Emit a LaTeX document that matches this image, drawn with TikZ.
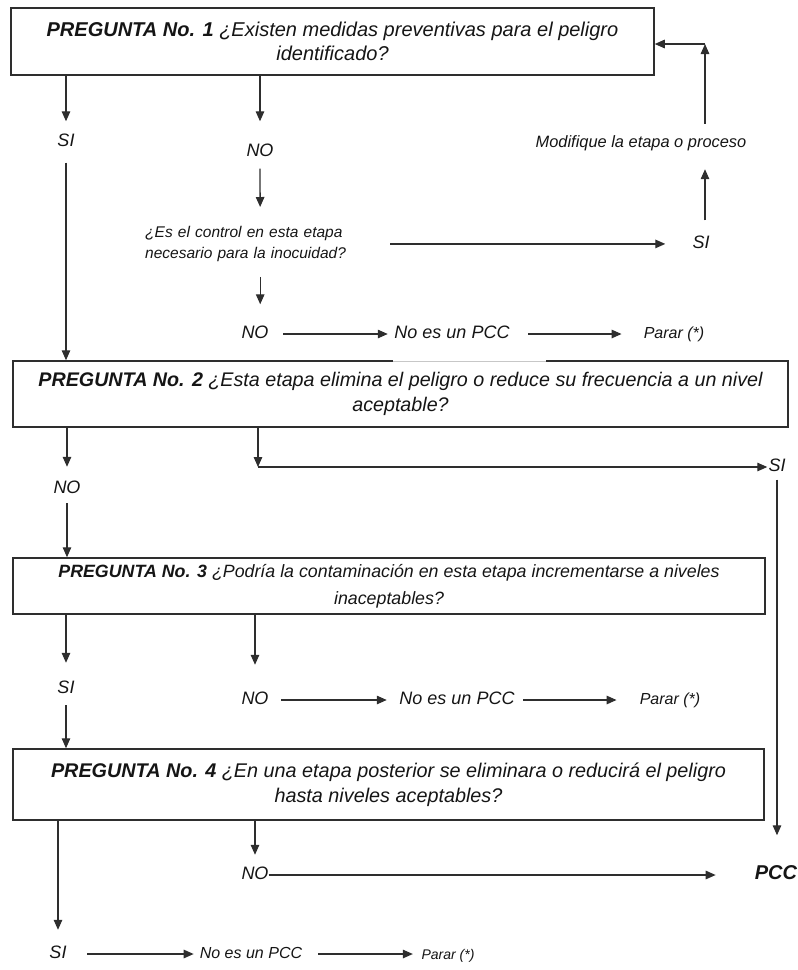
\documentclass[tikz,border=0pt]{standalone}
\usepackage{fontspec}
\setmainfont{Liberation Sans}
\usetikzlibrary{arrows.meta}
\definecolor{ink}{HTML}{151515}
\definecolor{wire}{HTML}{2E2E2E}
\newcommand{\fsz}[2]{\fontsize{#1}{#2}\selectfont}
\tikzset{
  qbox/.style={draw=wire, line width=1.5pt, inner sep=0pt, align=center, text=ink},
  lbl/.style={inner sep=0pt, text height=13pt, text depth=4pt, text=ink},
  t18/.style={font=\fsz{18}{20}\itshape},
  t16/.style={font=\fsz{16}{18}\itshape},
  ar/.style={draw=wire, line width=1.3pt, -{Triangle[length=10pt,width=8.5pt]}},
}
\begin{document}
\begin{tikzpicture}[x=1pt,y=-1pt]
\useasboundingbox (0,0) rectangle (798,970);

% question boxes
\node[qbox, minimum width=643pt, minimum height=67pt, font=\fsz{20}{24}\itshape] (b1) at (332.5,41.5)
  {\textbf{PREGUNTA No. 1} ¿Existen medidas preventivas para el peligro\\ identificado?};
\node[qbox, minimum width=775pt, minimum height=66pt, font=\fsz{19.7}{25}\itshape] (b2) at (400.5,394)
  {\textbf{PREGUNTA No. 2} ¿Esta etapa elimina el peligro o reduce su frecuencia a un nivel\\ aceptable?};
\node[qbox, minimum width=752pt, minimum height=56pt, font=\fsz{17.8}{27}\itshape] (b3) at (389,586)
  {\textbf{PREGUNTA No. 3} ¿Podría la contaminación en esta etapa incrementarse a niveles\\ inaceptables?};
\node[qbox, minimum width=751pt, minimum height=71pt, font=\fsz{19.8}{25}\itshape] (b4) at (388.5,784.5)
  {\textbf{PREGUNTA No. 4} ¿En una etapa posterior se eliminara o reducirá el peligro\\ hasta niveles aceptables?};
% faded stretch in the top border of box 2
\draw[white, line width=3pt] (393,361) -- (546,361);
\draw[black!22, line width=0.8pt] (393,361.5) -- (546,361.5);

% question 1 branches
\node[lbl, t18] (si1) at (66,142) {SI};
\node[lbl, t18] (no1) at (260,152) {NO};
\node[inner sep=0pt, text width=230pt, align=left, anchor=north west, text=ink,
      font=\fsz{15.5}{21}\itshape] (ctl) at (145,226)
  {\makebox[230pt][s]{¿Es el control en esta etapa}\\ necesario para la inocuidad?};
\node[lbl, t18] (si2) at (701,244) {SI};
\node[lbl, font=\fsz{16.4}{18}\itshape] (mod) at (641,142.5) {Modifique la etapa o proceso};
\coordinate (cup) at (705,44);
\node[lbl, t18] (no2) at (255,334) {NO};
\node[lbl, t18] (pcc1) at (452,334) {No es un PCC};
\node[lbl, t16] (stop1) at (674,334) {Parar (*)};

\draw[ar, shorten >=12pt] (b1.south -| si1) -- (si1.north);
\draw[ar, shorten <=12pt] (si1.south) -- (b2.north -| si1);
\draw[ar, shorten >=22pt] (b1.south -| no1) -- (no1.north);
\draw[ar, shorten <=8pt, shorten >=19pt] (no1.south) -- (ctl.north);
\draw[ar, shorten <=15pt, shorten >=27pt] (ctl.east) -- (ctl.east -| si2.west);
\draw[ar, shorten <=15pt, shorten >=18pt] (si2.north -| cup) -- (mod.south -| cup);
\draw[ar, shorten <=10pt] (mod.north -| cup) -- (cup);
\draw[ar] (cup) -- (cup -| b1.east);
\draw[ar, shorten <=15pt, shorten >=21pt] (ctl.south) -- (ctl.south |- no2.north);
\draw[ar, shorten <=14.5pt, shorten >=6.5pt] (no2.east) -- (pcc1.west);
\draw[ar, shorten <=18.5pt, shorten >=22pt] (pcc1.east) -- (stop1.west);

% question 2 branches
\node[lbl, t18] (no3) at (67,489) {NO};
\coordinate (turn) at (258,467);
\node[lbl, t18] (si3) at (777,467) {SI};
\node[lbl, font=\fsz{20}{22}\bfseries\itshape] (pcc) at (776,875) {PCC};

\draw[ar, shorten >=13.5pt] (b2.south -| no3) -- (no3.north);
\draw[ar, shorten <=5.5pt] (no3.south) -- (b3.north -| no3);
\draw[ar] (b2.south -| turn) -- (turn);
\draw[ar, shorten >=1pt] (turn) -- (turn -| si3.west);
\draw[ar, shorten <=4pt, shorten >=31pt] (si3.south) -- (si3.south |- pcc.north);

% question 3 branches
\node[lbl, t18] (si4) at (66,689) {SI};
\node[lbl, t18] (no4) at (255,700) {NO};
\node[lbl, t18] (pcc2) at (457,700) {No es un PCC};
\node[lbl, t16] (stop2) at (670,700) {Parar (*)};

\draw[ar, shorten >=17.5pt] (b3.south -| si4) -- (si4.north);
\draw[ar, shorten <=7.5pt] (si4.south) -- (b4.north -| si4);
\draw[ar, shorten >=26.5pt] (b3.south -| no4) -- (no4.north);
\draw[ar, shorten <=12.5pt, shorten >=12.5pt] (no4.east) -- (pcc2.west);
\draw[ar, shorten <=8.5pt, shorten >=23pt] (pcc2.east) -- (stop2.west);

% question 4 branches
\node[lbl, t18] (no5) at (255,875) {NO};
\node[lbl, t18] (si5) at (58,954) {SI};
\node[lbl, t16] (pcc3) at (251,954) {No es un PCC};
\node[lbl, font=\fsz{14}{15}\itshape] (stop3) at (448,955) {Parar (*)};

\draw[ar, shorten >=15.5pt] (b4.south -| si5) -- (si5.north);
\draw[ar, shorten <=20.5pt, shorten >=6pt] (si5.east) -- (pcc3.west);
\draw[ar, shorten <=16pt, shorten >=8.5pt] (pcc3.east) -- (pcc3.east -| stop3.west);
\draw[ar, shorten >=11.5pt] (b4.south -| no5) -- (no5.north);
\draw[ar, shorten >=39pt] (no5.east) -- (pcc.west);
\end{tikzpicture}
\end{document}
